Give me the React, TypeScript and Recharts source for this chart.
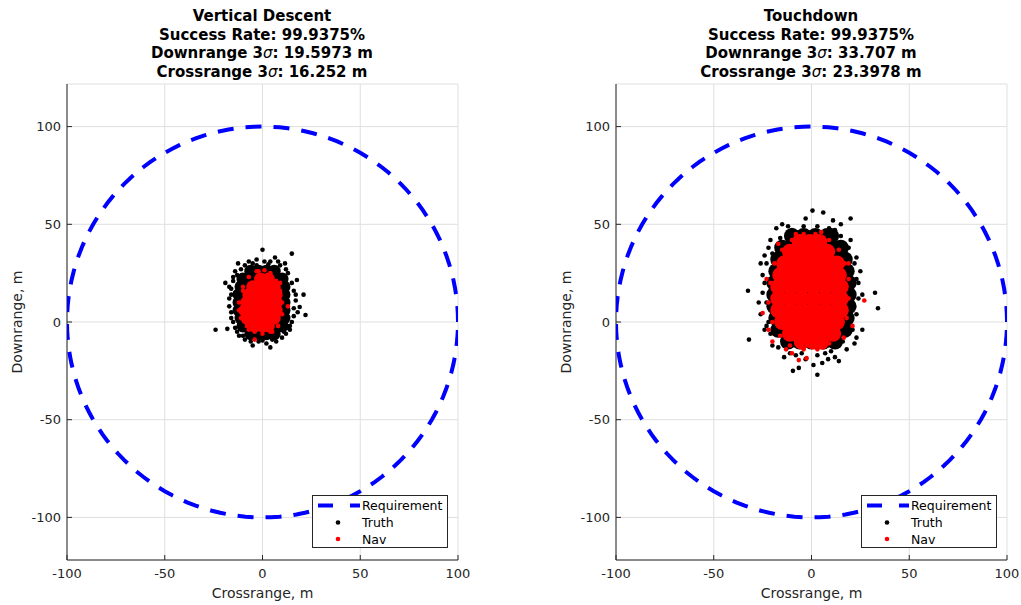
import React from "react";
import { CartesianGrid, Scatter, ScatterChart, XAxis, YAxis } from "recharts";

const FONT = "'DejaVu Sans', sans-serif";
const AXIS_COLOR = "#262626";
const GRID_COLOR = "#dfdfdf";

const xTicks = [-100, -50, 0, 50, 100];
const yTicks = [-100, -50, 0, 50, 100];
const xDomain: [number, number] = [-100, 100];
const yDomain: [number, number] = [-121.8, 121.8];
const requirementRadius = 100;

type Pt = [number, number];
type Row = [number, number[]];

// Vertical Descent: dense cloud as rows of wide markers, plus single scattered dots
const vdTruthCore: Row[] = [
  [26, [-6, -2, 2, 6]],
  [22, [-10, -6, -2, 2, 6, 10]],
  [18, [-11, -7, -3, 1, 5, 9, 11]],
  [14, [-12, -8, -4, 0, 4, 8, 11]],
  [10, [-12, -8, -4, 0, 4, 8, 11]],
  [6, [-12, -8, -4, 0, 4, 8, 11]],
  [2, [-11, -7, -3, 1, 5, 9, 11]],
  [-2, [-10, -6, -2, 2, 6, 10]],
  [-6, [-6, -2, 2, 6]],
];
const vdTruthDots: Pt[] = [
  [0, 37], [15, 35], [-24, -4], [-18, -3.5], [21, 14], [22, 3.6], [-19, 20], [-5, -12], [4, -13], [14, -4],
  [-15, 21], [17.6, 21.5], [19, 7.7], [-12.5, 30], [6.4, 33], [11.5, 30], [-7, 31], [-3, 32], [4, 31], [9, 29],
  [-11, 27], [-13, 24], [13, 25], [-16, 17], [16, 16], [-17, 12], [17, 11], [-16, 5], [16, 3], [-15, 0],
  [15, 0], [-13, -5], [12, -6], [-9, -9], [7, -10], [-2, -10], [2, -11], [-10, -7], [10, -8],
  [-14, 26], [-15, 23], [-16, 14], [-17, 8], [-16, 2], [-14, -3], [-12, -7], [-6, -10], [0, -9.5], [5, -9],
  [11, -5], [14, -2], [16, 7], [17, 14], [15, 20], [12, 27], [8, 31], [1, 31], [-5, 30], [-9, 29],
  [-14, 15], [13, -3], [-3, 29], [3, 29.5], [-17, 18], [18, 5],
];
const vdNavCore: Row[] = [
  [22, [-1, 3]],
  [18, [-5, -1, 3, 6]],
  [14, [-7, -3, 1, 5, 7]],
  [10, [-8, -4, 0, 4, 7]],
  [6, [-9, -5, -1, 3, 7]],
  [2, [-8, -4, 0, 4, 6]],
  [-2, [-4, 0, 3]],
];
const vdNavDots: Pt[] = [
  [1, 26.5], [-3, 26], [13, 8], [-4, -9], [-12, 6], [9, 20], [-10, 16], [5, -5], [-7, -4],
  [-11, 2], [-12, 10], [-10, 18], [-7, 23], [-2, 26], [4, 25], [7, 21], [9, 16], [10, 10], [10, 4],
  [8, -2], [4, -5], [0, -6], [-4, -5], [-8, -2],
];

// Touchdown
const tdTruthCore: Row[] = [
  [44, [-10, -4, 2, 8, 10]],
  [38, [-15, -9, -3, 3, 9, 15]],
  [32, [-17, -11, -5, 1, 7, 13, 17]],
  [26, [-18, -12, -6, 0, 6, 12, 18]],
  [20, [-19, -13, -7, -1, 5, 11, 17, 19]],
  [14, [-19, -13, -7, -1, 5, 11, 17, 19]],
  [8, [-19, -13, -7, -1, 5, 11, 17, 19]],
  [2, [-18, -12, -6, 0, 6, 12, 18]],
  [-4, [-17, -11, -5, 1, 7, 13, 17]],
  [-10, [-12, -6, 0, 6, 12]],
];
const tdTruthDots: Pt[] = [
  [0.5, 57], [6, 56], [20, 53], [-3, 53], [-18, 48], [11, 52], [-32.5, 16], [-32, -9], [32.5, 15], [34, 7],
  [3, -27], [-9.5, -25], [-6.5, -23.5], [8.5, -19], [5.5, -21], [26, -4], [-27, 10], [-26, 30], [24, 20], [26, 14],
  [-15, 50], [15, 50], [-21, 42], [20, 42], [-24, 34], [23, 33], [-25, 24], [25, 26], [-26, 4], [-24, -4],
  [23, -8], [-20, -12], [18, -14], [-14, -18], [12, -18], [-3, -19], [1, -22], [14, -20], [-8, -17], [7, -16],
  [-22, 38], [-23, 30], [-24, 20], [-23, 10], [-22, 0], [-21, -6], [-17, -13], [-11, -16], [-5, -16], [3, -17],
  [10, -15], [16, -10], [21, -4], [23, 4], [24, 12], [23, 22], [22, 30], [19, 38], [15, 44], [9, 48],
  [3, 49], [-4, 49], [-10, 47], [-16, 43], [-20, 35], [-25, 15], [-23, -2], [22, -11], [-12, 49], [12, 47],
];
const tdNavCore: Row[] = [
  [41, [-6, -1, 4]],
  [36, [-11, -6, -1, 4, 8]],
  [30, [-14, -8, -2, 4, 10, 13]],
  [24, [-16, -10, -4, 2, 8, 14]],
  [18, [-17, -11, -5, 1, 7, 13, 15]],
  [12, [-17, -11, -5, 1, 7, 13, 15]],
  [6, [-17, -11, -5, 1, 7, 13, 15]],
  [0, [-15, -9, -3, 3, 9, 13]],
  [-6, [-11, -5, 1, 7, 11]],
  [-10, [-5, 1, 5]],
];
const tdNavDots: Pt[] = [
  [27, 11], [-22, -4], [-25, 4.6], [-13, -14], [-6.5, -19.5], [-2.5, -18.5], [6, -13], [16.5, -8],
  [-23, 22], [-20, -10], [19, 30], [21, -2], [-17, 40], [-10, -16], [-8, 45], [5, 46],
  [-19, 30], [-21, 20], [-22, 10], [-20, 0], [-16, -7], [-11, -12], [-4, -14], [3, -14], [9, -11], [14, -6],
  [18, 2], [19, 12], [19, 22], [17, 30], [14, 37], [9, 42], [2, 45], [-4, 45], [-10, 42], [-15, 37],
];

const fromRows = (rows: Row[]) => rows.flatMap(([y, xs]) => xs.map(x => ({ x, y })));
const fromPts = (pts: Pt[]) => pts.map(([x, y]) => ({ x, y }));

// requirement ring, radius 100 m
const requirement = Array.from({ length: 145 }, (_, i) => {
  const a = (i * 2.5 * Math.PI) / 180;
  return { x: requirementRadius * Math.cos(a), y: requirementRadius * Math.sin(a) };
});

const CHART_W = 500;
const CHART_H = 605;

const dot = (r: number, fill: string) => (p: any) => <circle cx={p.cx} cy={p.cy} r={r} fill={fill} />;

function Legend() {
  return (
    <svg width={136} height={53} style={{ position: "absolute", left: 312, top: 495 }}>
      <rect x={0.5} y={0.5} width={135} height={52} fill="#fff" stroke={AXIS_COLOR} />
      <line x1={6} x2={21} y1={10.5} y2={10.5} stroke="#0000ff" strokeWidth={4} />
      <line x1={38} x2={48} y1={10.5} y2={10.5} stroke="#0000ff" strokeWidth={4} />
      <circle cx={26} cy={27.5} r={2.3} fill="#000" />
      <circle cx={26} cy={44} r={2.3} fill="#ff0000" />
      <g fontFamily={FONT} fontSize={12.5} fill="#000">
        <text x={50} y={15}>Requirement</text>
        <text x={50} y={32}>Truth</text>
        <text x={50} y={48.5}>Nav</text>
      </g>
    </svg>
  );
}

type PanelProps = {
  left: number;
  title: string[];
  truthCore: Row[];
  truthDots: Pt[];
  navCore: Row[];
  navDots: Pt[];
  coreR: number;
};

function Panel({ left, title, truthCore, truthDots, navCore, navDots, coreR }: PanelProps) {
  const tick = { fill: AXIS_COLOR, fontSize: 13, fontFamily: FONT };
  return (
    <div style={{ position: "absolute", left, top: 0, width: CHART_W, height: CHART_H }}>
      <div
        style={{
          position: "absolute",
          left: 262 - 200,
          top: 7,
          width: 400,
          textAlign: "center",
          fontFamily: FONT,
          fontWeight: "bold",
          fontSize: 15,
          lineHeight: "18.5px",
          color: "#000",
        }}
      >
        {title.map((t, i) => (
          <div key={i}>
            {t.includes("σ") ? (
              <>
                {t.split("σ")[0]}
                <i style={{ fontWeight: "normal" }}>σ</i>
                {t.split("σ")[1]}
              </>
            ) : (
              t
            )}
          </div>
        ))}
      </div>
      <ScatterChart width={CHART_W} height={CHART_H} margin={{ top: 84, right: 42, bottom: 0, left: 7 }}>
        <CartesianGrid stroke={GRID_COLOR} />
        <XAxis
          type="number"
          dataKey="x"
          domain={xDomain}
          ticks={xTicks}
          allowDataOverflow
          height={45}
          tickSize={-5}
          tickMargin={14}
          stroke={AXIS_COLOR}
          tick={tick}
          label={{ value: "Crossrange, m", position: "insideBottom", offset: 7, fill: AXIS_COLOR, fontSize: 14, fontFamily: FONT }}
        />
        <XAxis
          xAxisId="top"
          orientation="top"
          type="number"
          dataKey="x"
          domain={xDomain}
          ticks={xTicks}
          allowDataOverflow
          height={0}
          tickSize={-5}
          tick={false}
          stroke={AXIS_COLOR}
        />
        <YAxis
          type="number"
          dataKey="y"
          domain={yDomain}
          ticks={yTicks}
          allowDataOverflow
          width={60}
          tickSize={-5}
          tickMargin={11}
          stroke={AXIS_COLOR}
          tick={tick}
          label={{
            value: "Downrange, m",
            angle: -90,
            position: "insideLeft",
            offset: 10,
            fill: AXIS_COLOR,
            fontSize: 14,
            fontFamily: FONT,
            style: { textAnchor: "middle" },
          }}
        />
        <YAxis
          yAxisId="right"
          orientation="right"
          type="number"
          dataKey="y"
          domain={yDomain}
          ticks={yTicks}
          allowDataOverflow
          width={0}
          tickSize={-5}
          tick={false}
          stroke={AXIS_COLOR}
        />
        <Scatter
          xAxisId="top"
          yAxisId="right"
          data={requirement}
          line={{ stroke: "#0000ff", strokeWidth: 4, strokeDasharray: "16 12" }}
          shape={() => <g />}
          isAnimationActive={false}
        />
        <Scatter data={fromRows(truthCore)} shape={dot(coreR, "#000")} isAnimationActive={false} />
        <Scatter data={fromPts(truthDots)} shape={dot(2.3, "#000")} isAnimationActive={false} />
        <Scatter data={fromRows(navCore)} shape={dot(coreR, "#ff0000")} isAnimationActive={false} />
        <Scatter data={fromPts(navDots)} shape={dot(2.3, "#ff0000")} isAnimationActive={false} />
      </ScatterChart>
      <Legend />
    </div>
  );
}

export default function App() {
  return (
    <div style={{ position: "absolute", left: 0, top: 0, width: 1021, height: 605, background: "#fff", overflow: "hidden" }}>
      <Panel
        left={0}
        title={["Vertical Descent", "Success Rate: 99.9375%", "Downrange 3σ: 19.5973 m", "Crossrange 3σ: 16.252 m"]}
        truthCore={vdTruthCore}
        truthDots={vdTruthDots}
        navCore={vdNavCore}
        navDots={vdNavDots}
        coreR={6.5}
      />
      <Panel
        left={549}
        title={["Touchdown", "Success Rate: 99.9375%", "Downrange 3σ: 33.707 m", "Crossrange 3σ: 23.3978 m"]}
        truthCore={tdTruthCore}
        truthDots={tdTruthDots}
        navCore={tdNavCore}
        navDots={tdNavDots}
        coreR={8}
      />
    </div>
  );
}
